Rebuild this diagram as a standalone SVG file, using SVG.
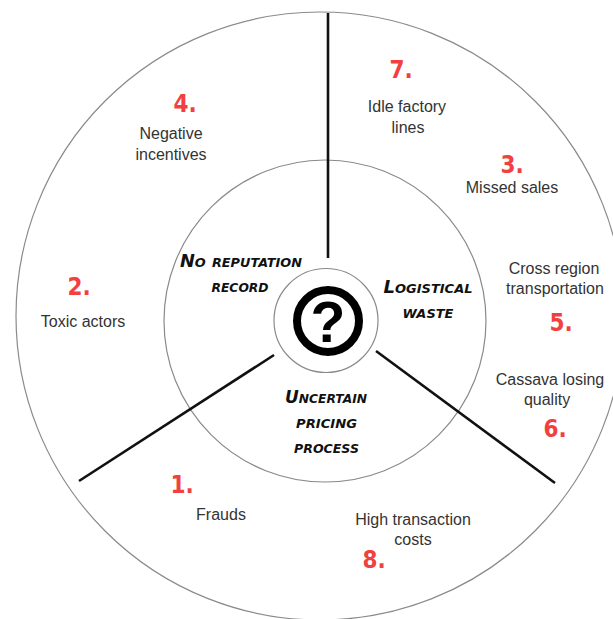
<svg xmlns="http://www.w3.org/2000/svg" width="613" height="619" viewBox="0 0 613 619">
  <style>
    .ring { fill: none; stroke: #8a8a8a; stroke-width: 1.2; }
    .spoke { stroke: #111; stroke-width: 2.6; stroke-linecap: butt; fill: none; }
    .lbl { font-family: "Liberation Sans", Arial, sans-serif; font-size: 16px; fill: #333; text-anchor: middle; }
    .num { font-family: "DejaVu Sans Condensed", "DejaVu Sans", sans-serif; font-stretch: condensed; font-weight: bold; font-size: 24px; fill: #f23f3f; text-anchor: middle; }
    .hand { font-family: "DejaVu Sans", sans-serif; font-weight: bold; font-style: oblique; font-variant: small-caps; font-size: 18px; fill: #111; text-anchor: middle; }
  </style>
  <rect width="613" height="619" fill="#ffffff"/>
  <g id="rings">
    <circle class="ring" cx="320" cy="316" r="304"/>
    <circle class="ring" cx="325" cy="321" r="161"/>
    <circle class="ring" cx="326" cy="320.5" r="52"/>
  </g>
  <g id="connectors">
    <line class="spoke" x1="328" y1="13" x2="328" y2="258"/>
    <line class="spoke" x1="274" y1="355" x2="79" y2="481"/>
    <line class="spoke" x1="376" y1="351" x2="555" y2="483"/>
  </g>
  <g id="center-icon">
    <circle cx="328" cy="321" r="31" fill="none" stroke="#000" stroke-width="8"/>
    <text x="328" y="342" font-family="Liberation Sans, Arial, sans-serif" font-weight="bold" font-size="57" text-anchor="middle" fill="#000">?</text>
  </g>
  <g id="no-reputation-record">
    <text class="hand" x="241" y="267" textLength="122" lengthAdjust="spacingAndGlyphs">No reputation</text>
    <text class="hand" x="240" y="292" textLength="57" lengthAdjust="spacingAndGlyphs">record</text>
  </g>
  <g id="logistical-waste">
    <text class="hand" x="428" y="293" textLength="89" lengthAdjust="spacingAndGlyphs">Logistical</text>
    <text class="hand" x="428" y="318" textLength="51" lengthAdjust="spacingAndGlyphs">waste</text>
  </g>
  <g id="uncertain-pricing-process">
    <text class="hand" x="326" y="403" textLength="82" lengthAdjust="spacingAndGlyphs">Uncertain</text>
    <text class="hand" x="326.5" y="428" textLength="61" lengthAdjust="spacingAndGlyphs">pricing</text>
    <text class="hand" x="326.5" y="453" textLength="65" lengthAdjust="spacingAndGlyphs">process</text>
  </g>
  <g id="item-1">
    <text class="num" x="182" y="493">1.</text>
    <text class="lbl" x="221" y="520">Frauds</text>
  </g>
  <g id="item-2">
    <text class="num" x="79" y="295">2.</text>
    <text class="lbl" x="83" y="327">Toxic actors</text>
  </g>
  <g id="item-3">
    <text class="num" x="512" y="173">3.</text>
    <text class="lbl" x="512" y="193">Missed sales</text>
  </g>
  <g id="item-4">
    <text class="num" x="185" y="112">4.</text>
    <text class="lbl" x="171" y="139">Negative</text>
    <text class="lbl" x="171" y="160">incentives</text>
  </g>
  <g id="item-5">
    <text class="lbl" x="554" y="274">Cross region</text>
    <text class="lbl" x="555" y="294">transportation</text>
    <text class="num" x="561" y="331">5.</text>
  </g>
  <g id="item-6">
    <text class="lbl" x="550" y="385">Cassava losing</text>
    <text class="lbl" x="547" y="405">quality</text>
    <text class="num" x="555" y="437">6.</text>
  </g>
  <g id="item-7">
    <text class="num" x="401" y="78">7.</text>
    <text class="lbl" x="407" y="112">Idle factory</text>
    <text class="lbl" x="408" y="133">lines</text>
  </g>
  <g id="item-8">
    <text class="lbl" x="413" y="525">High transaction</text>
    <text class="lbl" x="413" y="545">costs</text>
    <text class="num" x="374" y="568">8.</text>
  </g>
</svg>
